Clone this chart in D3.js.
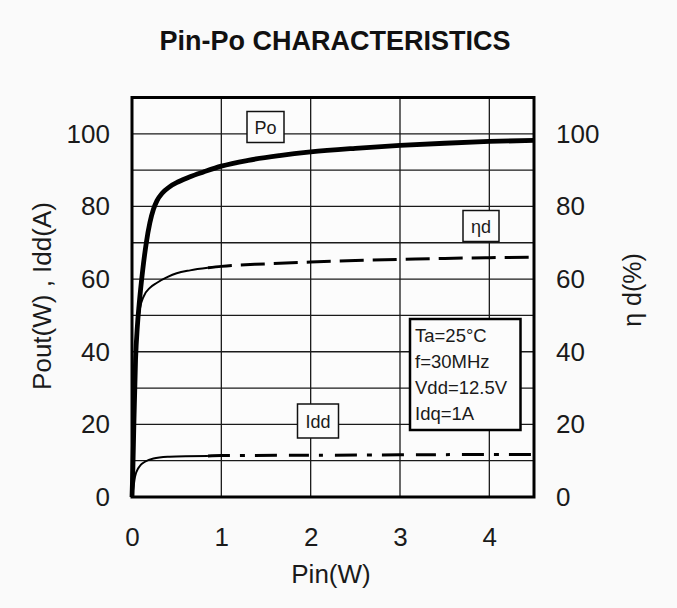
<!DOCTYPE html>
<html>
<head>
<meta charset="utf-8">
<script src="https://cdn.jsdelivr.net/npm/d3@7"></script>
<style>
  html, body { margin: 0; padding: 0; background: #fafafa; }
  svg { display: block; font-family: "Liberation Sans", Arial, sans-serif; }
</style>
</head>
<body>
<svg id="chart" width="677" height="608"></svg>
<script>
// ---- data ----
const title = "Pin-Po CHARACTERISTICS";
const xTicks = [0, 1, 2, 3, 4];
const yTicks = [0, 20, 40, 60, 80, 100];
const yGrid = [10, 20, 30, 40, 50, 60, 70, 80, 90, 100];
const xGrid = [1, 2, 3, 4];

const poPin = [0, 0.01, 0.02, 0.04, 0.06, 0.08, 0.12, 0.16, 0.2, 0.24, 0.28, 0.34, 0.42, 0.52, 0.65, 0.8, 1.0, 1.3, 1.65, 2.0, 2.5, 3.0, 3.5, 4.0, 4.5];
const poVal = [0, 8, 19, 38, 47, 53, 62.5, 70, 75.5, 79.2, 81.6, 83.7, 85.4, 86.8, 88.2, 89.5, 91.1, 92.7, 94.0, 95.0, 96.0, 96.8, 97.4, 97.9, 98.2];

const etaPin = [0, 0.01, 0.02, 0.04, 0.06, 0.09, 0.13, 0.2, 0.28, 0.4, 0.5, 0.65, 0.85, 1.0, 1.5, 2.0, 2.5, 3.0, 3.5, 4.0, 4.5];
const etaVal = [0, 7, 17, 36, 46, 52, 55.2, 57.6, 59.0, 60.6, 61.6, 62.4, 63.1, 63.5, 64.2, 64.7, 65.1, 65.4, 65.7, 65.9, 66.0];

const iddPin = [0, 0.015, 0.034, 0.07, 0.1, 0.145, 0.24, 0.42, 0.6, 0.85, 1.0, 2.0, 3.0, 4.0, 4.5];
const iddVal = [0, 2.5, 5.6, 7.9, 8.9, 9.7, 10.6, 11.1, 11.25, 11.3, 11.4, 11.5, 11.6, 11.7, 11.7];

const dashFrom = 0.85; // Pin where curves switch from solid to dashed

const conditions = ["Ta=25°C", "f=30MHz", "Vdd=12.5V", "Idq=1A"];

// ---- layout ----
const svg = d3.select("#chart");
const x = d3.scaleLinear().domain([0, 4.5]).range([132, 534]);
const y = d3.scaleLinear().domain([0, 110]).range([497, 97.5]);

svg.append("rect").attr("width", 677).attr("height", 608).attr("fill", "#fafafa");

// title
svg.append("text")
  .attr("x", 335).attr("y", 50)
  .attr("text-anchor", "middle")
  .attr("font-weight", "bold")
  .attr("font-size", 27)
  .attr("fill", "#111")
  .text(title);

// plot background
svg.append("rect")
  .attr("x", x(0)).attr("y", y(110))
  .attr("width", x(4.5) - x(0)).attr("height", y(0) - y(110))
  .attr("fill", "#fcfcfc");

// grid
const grid = svg.append("g").attr("stroke", "#1a1a1a").attr("stroke-width", 1.3);
grid.selectAll("line.h").data(yGrid).join("line")
  .attr("x1", x(0)).attr("x2", x(4.5))
  .attr("y1", d => y(d)).attr("y2", d => y(d));
grid.selectAll("line.v").data(xGrid).join("line")
  .attr("y1", y(0)).attr("y2", y(110))
  .attr("x1", d => x(d)).attr("x2", d => x(d));

// curves
const line = d3.line().x(d => x(d[0])).y(d => y(d[1])).curve(d3.curveMonotoneX);
const zip = (a, b) => a.map((v, i) => [v, b[i]]);
const po = zip(poPin, poVal);
const eta = zip(etaPin, etaVal);
const idd = zip(iddPin, iddVal);

const curves = svg.append("g").attr("fill", "none").attr("stroke", "#000").attr("stroke-linecap", "butt");
curves.append("path").attr("d", line(eta.filter(d => d[0] <= dashFrom))).attr("stroke-width", 2);
curves.append("path").attr("d", line(eta.filter(d => d[0] >= dashFrom))).attr("stroke-width", 3)
  .attr("stroke-dasharray", "24,9");
curves.append("path").attr("d", line(idd.filter(d => d[0] <= dashFrom))).attr("stroke-width", 2);
curves.append("path").attr("d", line(idd.filter(d => d[0] >= dashFrom))).attr("stroke-width", 3)
  .attr("stroke-dasharray", "22,10,5,10,22,12,20,10,4,12");
curves.append("path").attr("d", line(po)).attr("stroke-width", 4.8).attr("stroke-linejoin", "round");

// frame
svg.append("rect")
  .attr("x", x(0)).attr("y", y(110))
  .attr("width", x(4.5) - x(0)).attr("height", y(0) - y(110))
  .attr("fill", "none").attr("stroke", "#000").attr("stroke-width", 3);

// axes (labels only)
const styleAxis = g => {
  g.select(".domain").remove();
  g.selectAll("text").attr("font-size", 26).attr("fill", "#1a1a1a")
    .attr("font-family", "Liberation Sans, Arial, sans-serif");
};
svg.append("g").attr("transform", `translate(${x(0)},0)`)
  .call(d3.axisLeft(y).tickValues(yTicks).tickSize(0).tickPadding(22)).call(styleAxis);
svg.append("g").attr("transform", `translate(${x(4.5)},0)`)
  .call(d3.axisRight(y).tickValues(yTicks).tickSize(0).tickPadding(22)).call(styleAxis);
svg.append("g").attr("transform", `translate(0,${y(0)})`)
  .call(d3.axisBottom(x).tickValues(xTicks).tickFormat(d3.format("d")).tickSize(0).tickPadding(31)).call(styleAxis);

// axis titles
svg.append("text")
  .attr("transform", "translate(51,296) rotate(-90)")
  .attr("text-anchor", "middle").attr("font-size", 26).attr("fill", "#1a1a1a")
  .text("Pout(W) , Idd(A)");
svg.append("text")
  .attr("transform", "translate(641,290) rotate(-90)")
  .attr("text-anchor", "middle").attr("font-size", 25).attr("fill", "#1a1a1a")
  .text("η d(%)");
svg.append("text")
  .attr("x", 331).attr("y", 583)
  .attr("text-anchor", "middle").attr("font-size", 26).attr("fill", "#1a1a1a")
  .text("Pin(W)");

// curve label boxes
const tag = (cx, cy, w, h, txt) => {
  svg.append("rect").attr("x", cx - w / 2).attr("y", cy - h / 2).attr("width", w).attr("height", h)
    .attr("fill", "#fcfcfc").attr("stroke", "#111").attr("stroke-width", 1.5);
  svg.append("text").attr("x", cx).attr("y", cy + 6.5).attr("text-anchor", "middle")
    .attr("font-size", 18).attr("fill", "#1a1a1a").text(txt);
};
tag(265.5, 127, 37, 31, "Po");
tag(481, 226, 36, 31, "ηd");
tag(318, 421, 41, 34, "Idd");

// conditions box
svg.append("rect").attr("x", 410).attr("y", 319).attr("width", 110.5).attr("height", 111)
  .attr("fill", "#fcfcfc").attr("stroke", "#000").attr("stroke-width", 2.5);
svg.append("g").selectAll("text").data(conditions).join("text")
  .attr("x", 415).attr("y", (d, i) => 342 + i * 26)
  .attr("font-size", 18.5).attr("fill", "#1a1a1a")
  .text(d => d);
</script>
</body>
</html>
